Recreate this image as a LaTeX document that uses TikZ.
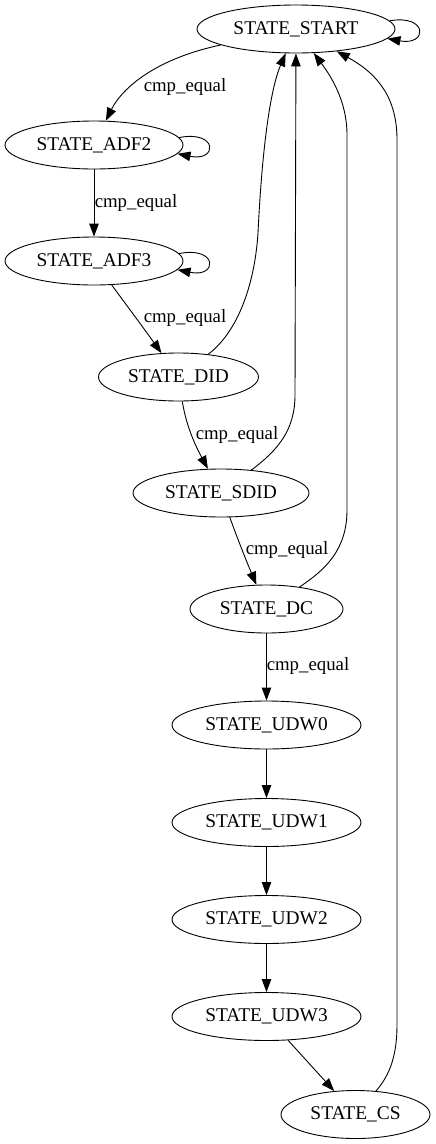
\documentclass[tikz,border=0pt]{standalone}
\usepackage{fontspec}
\setmainfont{Liberation Serif}
\usetikzlibrary{shapes.geometric,arrows.meta}
\tikzset{
  st/.style={draw, ellipse, inner sep=0pt, minimum height=48pt, line width=0.9pt,
    font=\fontsize{19.4}{22}\selectfont},
  lbl/.style={inner sep=0pt, font=\fontsize{18.8}{22}\selectfont},
  edge/.style={line width=0.9pt, -{Triangle[length=13pt,width=9.5pt]}}
}
\begin{document}
\begin{tikzpicture}[x=1pt,y=-1pt]
\useasboundingbox (0,0) rectangle (436,1144);
\node[st, minimum width=198pt] (START) at (296,29) {STATE\_START};
\node[st, minimum width=178pt] (ADF2) at (94,145) {STATE\_ADF2};
\node[st, minimum width=178pt] (ADF3) at (94,261) {STATE\_ADF3};
\node[st, minimum width=160pt] (DID) at (178.5,377) {STATE\_DID};
\node[st, minimum width=176pt] (SDID) at (221,493) {STATE\_SDID};
\node[st, minimum width=153pt] (DC) at (266.5,609) {STATE\_DC};
\node[st, minimum width=189pt] (UDW0) at (266.5,725) {STATE\_UDW0};
\node[st, minimum width=189pt] (UDW1) at (266.5,822.5) {STATE\_UDW1};
\node[st, minimum width=189pt] (UDW2) at (266.5,919.5) {STATE\_UDW2};
\node[st, minimum width=189pt] (UDW3) at (266.5,1016.5) {STATE\_UDW3};
\node[st, minimum width=149pt] (CS) at (355.5,1114.5) {STATE\_CS};

\node[lbl] (l1) at (185,87) {cmp\_equal};
\node[lbl] (l2) at (136,203) {cmp\_equal};
\node[lbl] (l3) at (185,318) {cmp\_equal};
\node[lbl] (l4) at (237,435) {cmp\_equal};
\node[lbl] (l5) at (287,550) {cmp\_equal};
\node[lbl] (l6) at (308,666) {cmp\_equal};

% self loops
\draw[edge] (START.5) .. controls (428,14) and (428,46) .. (START.-6);
\draw[edge] (ADF2.5) .. controls (218,130) and (218,162) .. (ADF2.-6);
\draw[edge] (ADF3.5) .. controls (218,246) and (218,278) .. (ADF3.-6);

% forward chain
\draw[edge] (START) .. controls (150,60) and (120,92) .. (ADF2);
\draw[edge] (ADF2) -- (ADF3);
\draw[edge] (ADF3) .. controls (125,303) and (145,330) .. (DID);
\draw[edge] (DID) .. controls (186,425) and (195,445) .. (SDID);
\draw[edge] (SDID) .. controls (238,540) and (246,560) .. (DC);
\draw[edge] (DC) -- (UDW0);
\draw[edge] (UDW0) -- (UDW1);
\draw[edge] (UDW1) -- (UDW2);
\draw[edge] (UDW2) -- (UDW3);
\draw[edge] (UDW3) -- (CS);

% back edges to START
\draw[edge] (DID) .. controls (240,330) and (255,280) .. (258,233)
  .. controls (262,150) and (270,90) .. (START);
\draw[edge] (SDID) .. controls (278,450) and (295,430) .. (295,395) -- (START);
\draw[edge] (DC) .. controls (325,570) and (347,550) .. (347,510) -- (347,135)
  .. controls (347,100) and (330,75) .. (START);
\draw[edge] (CS) .. controls (390,1075) and (397,1055) .. (397,1025) -- (397,140)
  .. controls (397,100) and (380,75) .. (START);
\end{tikzpicture}
\end{document}
